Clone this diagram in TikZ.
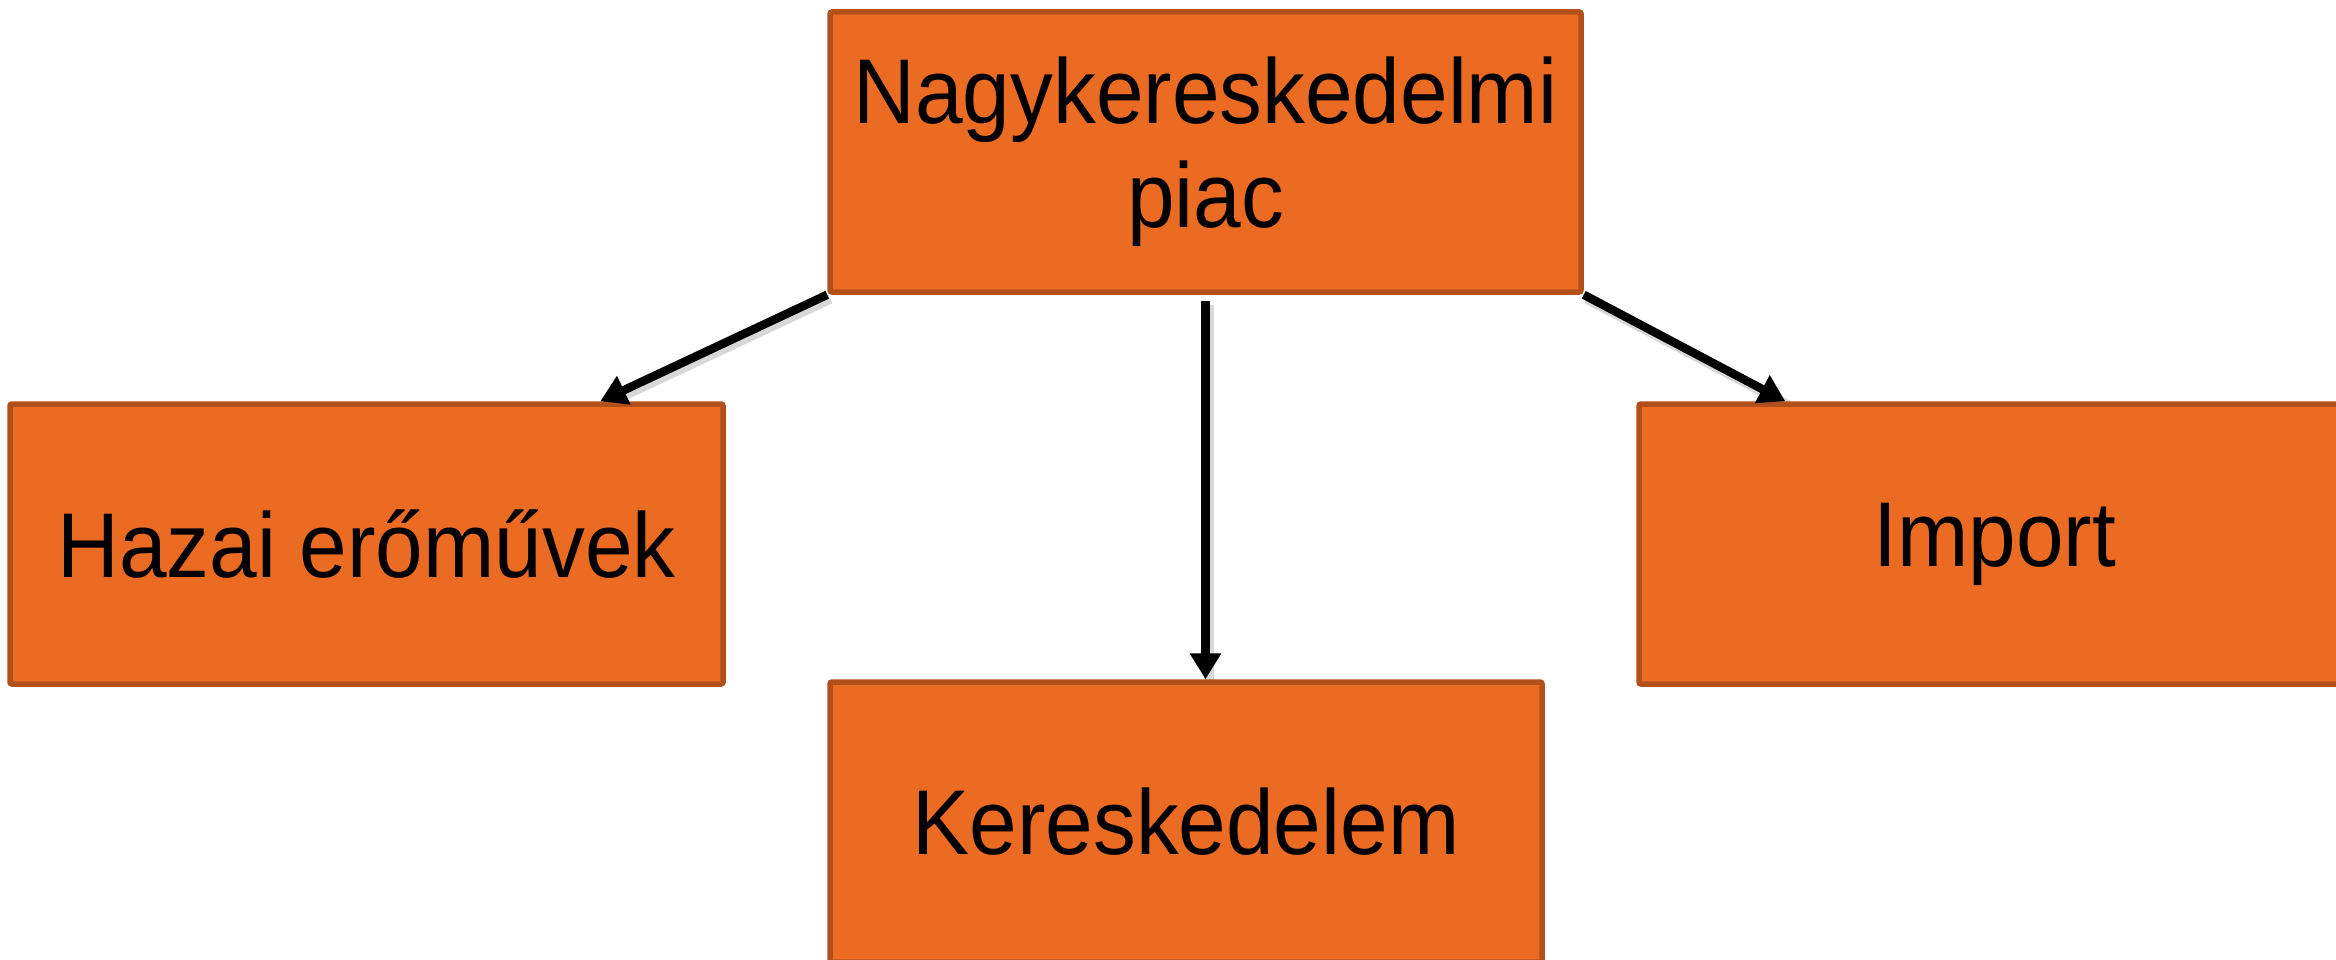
\documentclass[tikz,border=0pt]{standalone}
\usepackage{fontspec}
\setmainfont[FakeStretch=0.93]{Liberation Sans}
\usetikzlibrary{arrows.meta,calc,backgrounds}
\definecolor{boxfill}{HTML}{EB6B23}
\definecolor{boxedge}{HTML}{B2501B}
\begin{document}
\begin{tikzpicture}[x=1pt,y=-1pt,
  box/.style={draw=boxedge,fill=boxfill,line width=5.5pt,rounded corners=2pt,
    minimum width=#1,minimum height=280pt,inner sep=0pt,align=center,
    font=\fontsize{92}{104}\selectfont},
  conn/.style={line width=8.5pt,-{Triangle[length=26pt,width=30pt]}},
  shade/.style={line width=10pt,draw=black!30,opacity=0.5}]
\useasboundingbox (0,0) rectangle (2336,960);
\node[box=751pt] (top) at (1205.5,152) {Nagykereskedelmi\\piac};
\node[box=713pt] (left) at (366.5,544) {Hazai erőművek};
\node[box=712pt] (right) at (1995,544) {Import};
\node[box=712pt] (bot) at (1186,822) {Kereskedelem};
% connectors
\draw[conn] (top.south west) -- ([xshift=593pt]left.north west);
\draw[conn] ([yshift=-6pt]top.south) -- (top.south |- bot.north);
\draw[conn] (top.south east) -- ([xshift=149pt]right.north west);
\begin{scope}[on background layer]
\draw[shade] ([xshift=3pt,yshift=-4pt]top.south west) -- ([xshift=596pt,yshift=-4pt]left.north west);
\draw[shade] ([xshift=3pt,yshift=-10pt]top.south) -- ([xshift=3pt,yshift=-4pt]top.south |- bot.north);
\draw[shade] ([xshift=3pt,yshift=-4pt]top.south east) -- ([xshift=152pt,yshift=-4pt]right.north west);
\end{scope}
\end{tikzpicture}
\end{document}
